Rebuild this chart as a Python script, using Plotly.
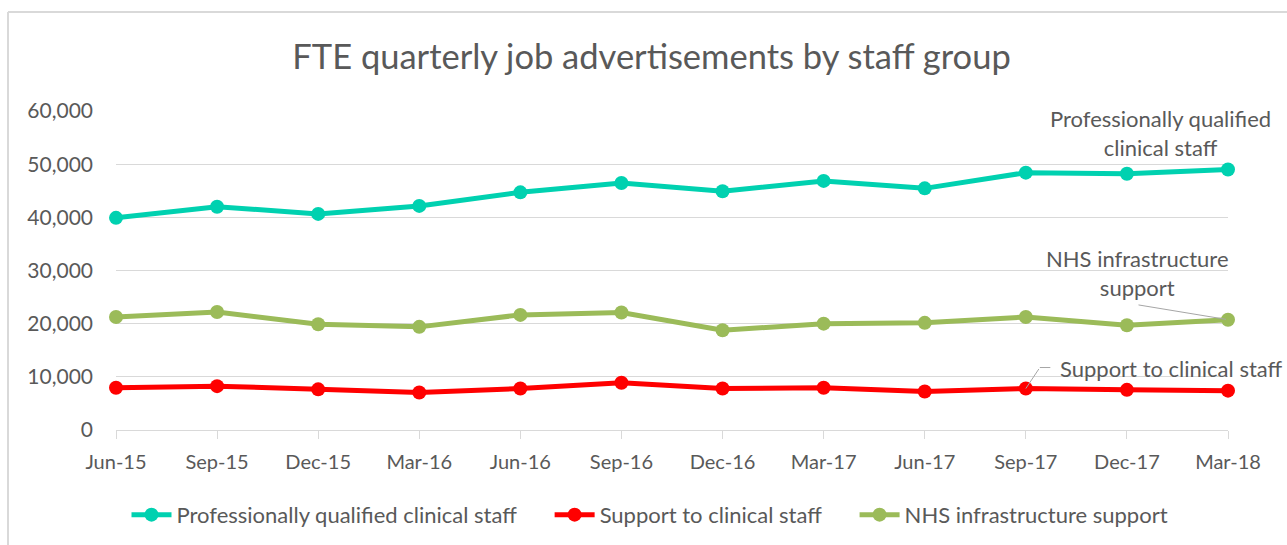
import plotly.graph_objects as go

quarters = ["Jun-15", "Sep-15", "Dec-15", "Mar-16", "Jun-16", "Sep-16",
            "Dec-16", "Mar-17", "Jun-17", "Sep-17", "Dec-17", "Mar-18"]

prof_qualified = [39900, 42000, 40650, 42150, 44700, 46450,
                  44900, 46850, 45450, 48400, 48200, 49000]
support_clinical = [7950, 8250, 7650, 7050, 7800, 8900,
                    7800, 7950, 7250, 7800, 7550, 7400]
nhs_infra = [21250, 22200, 19900, 19400, 21650, 22100,
             18750, 20000, 20150, 21250, 19700, 20750]

series_names = ["Professionally qualified clinical staff",
                "Support to clinical staff",
                "NHS infrastructure support"]
series_colors = ["#00D1B0", "#FF0000", "#9BBB59"]
series_values = [prof_qualified, support_clinical, nhs_infra]

y_ticks = [0, 10000, 20000, 30000, 40000, 50000, 60000]

FONT = "Lato"
TEXT = "#595959"
GRID = "#D9D9D9"
LEADER = "#A6A6A6"

x_idx = list(range(len(quarters)))

# trailing non-breaking spaces widen the gap between legend entries
PAD = "\u00a0" * 5

fig = go.Figure()
for i, (name, color, vals) in enumerate(zip(series_names, series_colors, series_values)):
    fig.add_trace(go.Scatter(
        x=x_idx, y=vals, name=name + (PAD if i < len(series_names) - 1 else ""),
        mode="lines+markers",
        line=dict(color=color, width=5),
        marker=dict(color=color, size=14),
        cliponaxis=False,
    ))

fig.update_layout(
    width=1287, height=545,
    margin=dict(l=116, r=59, t=111, b=115, autoexpand=False),
    paper_bgcolor="white", plot_bgcolor="white",
    font=dict(family=FONT, color=TEXT, size=20),
    title=dict(text="FTE quarterly job advertisements by staff group",
               x=651.5 / 1287, xanchor="center", xref="container",
               y=1 - 57 / 545, yref="container", yanchor="middle",
               font=dict(family=FONT, size=34.5, color=TEXT)),
    showlegend=True,
    legend=dict(orientation="h", x=(650 - 116) / 1112, xanchor="center",
                y=-0.266, yanchor="middle",
                font=dict(family=FONT, size=22, color=TEXT),
                itemwidth=40, traceorder="normal"),
    xaxis=dict(
        range=[0, len(quarters) - 1],
        tickmode="array", tickvals=x_idx, ticktext=quarters,
        tickangle=0,
        showgrid=False, zeroline=False,
        showline=True, linecolor=GRID, linewidth=1,
        ticks="outside", ticklen=8, tickcolor=GRID,
        ticklabelstandoff=6,
        tickfont=dict(family=FONT, size=20, color=TEXT),
    ),
    yaxis=dict(
        range=[0, 60000],
        tickmode="array", tickvals=y_ticks,
        tickformat=",d",
        showgrid=True, gridcolor=GRID, gridwidth=1,
        zeroline=False, showline=False, ticks="",
        ticklabelstandoff=22,
        tickfont=dict(family=FONT, size=21, color=TEXT),
    ),
)

# Outer frame (top and left edges)
fig.add_shape(type="line", xref="paper", yref="paper",
              x0=-108 / 1112, x1=1.06, y0=1 + 99 / 319, y1=1 + 99 / 319,
              line=dict(color=GRID, width=2))
fig.add_shape(type="line", xref="paper", yref="paper",
              x0=-108 / 1112, x1=-108 / 1112, y0=-0.37, y1=1 + 99 / 319,
              line=dict(color=GRID, width=2))

last = len(quarters) - 1
sep17 = quarters.index("Sep-17")

# Series labels
fig.add_annotation(
    x=last, y=prof_qualified[last], xref="x", yref="y",
    text="Professionally qualified<br>clinical staff",
    showarrow=False, xanchor="center", yanchor="bottom",
    xshift=-68, yshift=6, align="center",
    font=dict(family=FONT, size=22, color=TEXT),
)
fig.add_annotation(
    x=last, y=nhs_infra[last], xref="x", yref="y",
    text="NHS infrastructure<br>support",
    showarrow=False, xanchor="center", yanchor="middle",
    xshift=-91, yshift=47, align="center",
    font=dict(family=FONT, size=22, color=TEXT),
)
fig.add_annotation(
    x=sep17, y=support_clinical[sep17], xref="x", yref="y",
    text="Support to clinical staff",
    showarrow=False, xanchor="center", yanchor="middle",
    xshift=146, yshift=20, align="center",
    font=dict(family=FONT, size=22, color=TEXT),
)

# Leader lines
fig.add_annotation(
    x=last, y=nhs_infra[last], xref="x", yref="y", text="",
    showarrow=True, arrowhead=0, arrowwidth=1, arrowcolor=LEADER,
    ax=-91, ay=-15, standoff=2,
)
fig.add_annotation(
    x=sep17, y=support_clinical[sep17], xref="x", yref="y", text="",
    showarrow=True, arrowhead=0, arrowwidth=1, arrowcolor=LEADER,
    ax=14, ay=-21, standoff=0,
)
fig.add_annotation(
    x=sep17, y=support_clinical[sep17], xref="x", yref="y", text="",
    showarrow=True, arrowhead=0, arrowwidth=1, arrowcolor=LEADER,
    xshift=14, yshift=21, ax=12, ay=0, standoff=0,
)

fig.write_html("out.html")
